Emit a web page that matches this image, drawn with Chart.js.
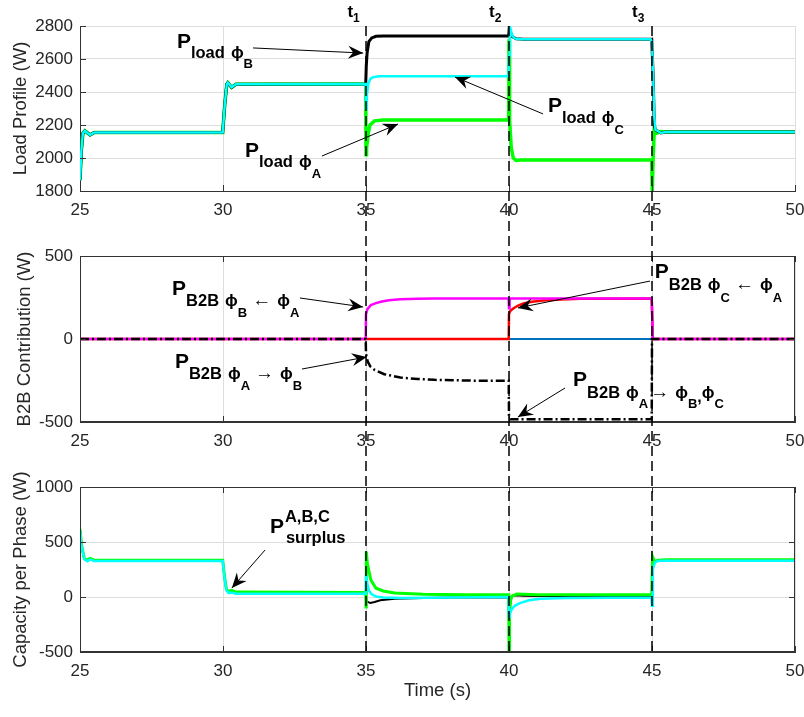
<!DOCTYPE html>
<html>
<head>
<meta charset="utf-8">
<script src="https://cdn.jsdelivr.net/npm/chart.js@4.4.1/dist/chart.umd.min.js"></script>
<style>
  body { margin: 0; background: #fff; }
  #wrap { position: relative; width: 804px; height: 717px; }
  canvas { position: absolute; left: 0; top: 0; }
</style>
</head>
<body>
<div id="wrap">
  <canvas id="load" width="804" height="717"></canvas>
  <canvas id="b2b" width="804" height="717"></canvas>
  <canvas id="cap" width="804" height="717"></canvas>
</div>
<script>
// Load profile (W)
const tLoadA = [25, 25.05, 25.1, 25.17, 25.35, 25.5, 29.99, 30.06, 30.13, 30.17, 30.3, 30.45, 34.99, 35.0, 35.02, 35.08, 35.14, 35.3, 35.6, 39.99, 40.0, 40.02, 40.08, 40.15, 40.25, 40.4, 44.99, 45.01, 45.04, 45.08, 45.15, 45.3, 45.5, 50];
const loadA  = [1865, 2050, 2150, 2165, 2140, 2155, 2155, 2320, 2445, 2456, 2428, 2447, 2448, 2020, 2060, 2150, 2200, 2225, 2230, 2230, 2720, 2230, 2060, 2000, 1985, 1988, 1988, 1800, 2000, 2170, 2150, 2160, 2157, 2157];
const tLoadB = [25, 25.05, 25.1, 25.17, 25.35, 25.5, 29.99, 30.06, 30.13, 30.17, 30.3, 30.45, 34.99, 35.01, 35.04, 35.1, 35.2, 35.35, 35.6, 39.99, 40.01, 40.05, 40.12, 40.25, 40.5, 44.99, 45.04, 45.08, 45.12, 45.2, 45.3, 45.5, 50];
const loadB  = [1865, 2050, 2150, 2165, 2140, 2155, 2155, 2320, 2445, 2456, 2428, 2447, 2448, 2560, 2640, 2705, 2728, 2738, 2740, 2740, 2790, 2760, 2735, 2722, 2720, 2720, 2500, 2200, 2170, 2163, 2152, 2157, 2157];
const tLoadC = [25, 25.05, 25.1, 25.17, 25.35, 25.5, 29.99, 30.06, 30.13, 30.17, 30.3, 30.45, 34.99, 35.0, 35.03, 35.08, 35.15, 35.25, 35.45, 39.99, 40.0, 40.03, 40.07, 40.12, 40.2, 40.35, 44.95, 45.0, 45.04, 45.08, 45.12, 45.2, 45.3, 45.5, 50];
const loadC  = [1865, 2050, 2150, 2165, 2140, 2155, 2155, 2320, 2445, 2456, 2428, 2447, 2448, 2300, 2380, 2450, 2480, 2490, 2495, 2495, 2620, 2800, 2770, 2740, 2725, 2720, 2720, 2700, 2500, 2250, 2170, 2165, 2152, 2157, 2157];

// B2B contribution (W)
const tB2bBA = [25, 34.99, 35.0, 35.05, 35.17, 35.35, 35.52, 35.8, 36.2, 36.8, 37.4, 39.99, 40.0, 40.02, 40.06, 44.99, 45.03, 50];
const b2bBA  = [0, 0, 150, 180, 204, 216, 224, 233, 240, 243, 244, 244, 185, 235, 244, 244, 0, 0];
const tB2bCA = [25, 39.99, 40.0, 40.05, 40.15, 40.3, 40.5, 40.8, 41.2, 41.8, 42.5, 44.99, 45.03, 50];
const b2bCA  = [0, 0, 150, 170, 184, 200, 214, 224, 232, 238, 242, 244, 0, 0];
const tB2bBase = [25, 50];
const b2bBase  = [0, 0];
const tB2bA  = [25, 34.99, 35.0, 35.06, 35.15, 35.3, 35.64, 36.2, 36.8, 37.4, 39.1, 39.99, 40.0, 40.05, 44.99, 45.0, 50];
const b2bA   = [0, 0, -90, -136, -165, -186, -212, -232, -241, -246, -252, -252, -470, -484, -484, 0, 0];

// Capacity per phase (W)
const tCapA = [25, 25.05, 25.15, 25.25, 25.35, 25.5, 29.99, 30.05, 30.12, 30.2, 30.3, 30.45, 34.99, 35.0, 35.01, 35.05, 35.17, 35.35, 35.6, 36, 37, 38.5, 39.99, 40.0, 40.02, 40.06, 40.1, 40.27, 41, 44.99, 45.02, 45.1, 45.2, 45.5, 50];
const capA  = [620, 480, 350, 335, 350, 335, 335, 190, 70, 50, 60, 45, 42, -90, 412, 300, 155, 80, 55, 36, 25, 20, 20, -500, -150, -20, 5, 27, 20, 20, 367, 320, 335, 338, 338];
const tCapB = [25, 25.05, 25.15, 25.25, 25.35, 25.5, 29.99, 30.05, 30.12, 30.2, 30.3, 30.45, 34.99, 35.02, 35.15, 35.3, 35.5, 36, 37, 38, 39.99, 40.0, 40.03, 40.1, 40.2, 40.5, 41, 44.99, 45.0, 45.03, 45.1, 45.25, 45.5, 50];
const capB  = [610, 470, 345, 330, 345, 335, 335, 185, 65, 45, 55, 45, 45, -40, -55, -45, -30, -15, -8, -5, -5, -200, -80, 10, 15, 12, 8, 6, -60, 280, 320, 335, 335, 335];
const tCapC = [25, 25.05, 25.15, 25.25, 25.35, 25.5, 29.99, 30.05, 30.12, 30.2, 30.3, 30.45, 34.99, 35.0, 35.05, 35.1, 35.2, 35.35, 35.6, 36.2, 39.99, 40.0, 40.03, 40.1, 40.2, 40.38, 40.7, 41.1, 42, 44.99, 45.0, 45.03, 45.1, 45.25, 45.5, 50];
const capC  = [610, 470, 345, 325, 340, 328, 328, 180, 60, 35, 40, 30, 30, 200, 120, 60, 25, 5, -5, -8, 0, -180, -150, -110, -80, -55, -30, -15, -8, -5, -80, 250, 315, 330, 330, 330];

// axes
const xTicks = [25, 50, 5];
const eventTimes = [35, 40, 45];
const loadRange = [1800, 2800, 200];
const b2bRange = [-500, 500, 500];
const capRange = [-500, 1000, 500];

// layout of the three plot boxes (pixels)
const BOXES = [
  { top: 26, bottom: 191, xh: 30 },
  { top: 256, bottom: 422, xh: 30 },
  { top: 487, bottom: 652, xh: 54 },
];
const FONT = '"Liberation Sans", Arial, Helvetica, sans-serif';
const TXT = '#262626';

const pts = (t, v) => t.map((x, i) => ({ x, y: v[i] }));

// rich text: segments drawn one after another
function drawRich(ctx, x, y, segs) {
  let cx = x;
  segs.forEach(sg => {
    ctx.font = `${sg.w || 'bold'} ${sg.s}px ${FONT}`;
    cx += sg.dx || 0;
    ctx.fillText(sg.t, cx, y + (sg.dy || 0));
    if (!sg.stay) cx += ctx.measureText(sg.t).width;
  });
}

function arrow(ctx, x1, y1, x2, y2) {
  ctx.lineWidth = 1;
  ctx.beginPath(); ctx.moveTo(x1, y1); ctx.lineTo(x2, y2); ctx.stroke();
  const a = Math.atan2(y2 - y1, x2 - x1), c = Math.cos(a), s = Math.sin(a);
  const L = 15, W = 6.5, B = 10;
  ctx.beginPath();
  ctx.moveTo(x2, y2);
  ctx.lineTo(x2 - L * c + W * s, y2 - L * s - W * c);
  ctx.lineTo(x2 - B * c, y2 - B * s);
  ctx.lineTo(x2 - L * c - W * s, y2 - L * s + W * c);
  ctx.closePath(); ctx.fill();
}

const P = { t: 'P', s: 21 };
const sub = (t, dy) => ({ t, s: 16.5, dy });
const phi = (dy, dx) => ({ t: 'ϕ', s: 17, dy, dx: dx || 0 });
const ssub = (t, dy) => ({ t, s: 13, dy });
const arr = (t, dy, dx) => ({ t, s: 19, w: 'normal', dy, dx });

const overlay = {
  id: 'overlay',
  afterDraw(chart, args, o) {
    const { ctx, chartArea: a, scales: { x, y } } = chart;
    ctx.save();
    ctx.strokeStyle = '#333';
    ctx.lineWidth = 1;
    if (o.box) ctx.strokeRect(Math.round(a.left) + 0.5, Math.round(a.top) + 0.5, Math.round(a.right - a.left) - 1, Math.round(a.bottom - a.top) - 1);
    ctx.beginPath();
    x.ticks.forEach(tk => {
      const p = Math.round(x.getPixelForValue(tk.value)) + 0.5;
      ctx.moveTo(p, a.bottom); ctx.lineTo(p, a.bottom - 6);
      if (o.box) { ctx.moveTo(p, a.top); ctx.lineTo(p, a.top + 6); }
    });
    y.ticks.forEach(tk => {
      const p = Math.round(y.getPixelForValue(tk.value)) + 0.5;
      ctx.moveTo(a.left, p); ctx.lineTo(a.left + 6, p);
      if (o.box) { ctx.moveTo(a.right, p); ctx.lineTo(a.right - 6, p); }
    });
    ctx.stroke();

    ctx.fillStyle = '#000';
    ctx.strokeStyle = '#000';
    ctx.textBaseline = 'alphabetic';
    ctx.textAlign = 'left';
    (o.arrows || []).forEach(([t1, v1, t2, v2]) =>
      arrow(ctx, x.getPixelForValue(t1), y.getPixelForValue(v1), x.getPixelForValue(t2), y.getPixelForValue(v2)));
    (o.labels || []).forEach(l => drawRich(ctx, x.getPixelForValue(l.t), y.getPixelForValue(l.v), l.segs));

    if (o.vlines) {
      ctx.setLineDash([10, 5]);
      ctx.lineWidth = 1.5;
      o.vlines.forEach(t => {
        const p = x.getPixelForValue(t);
        ctx.beginPath(); ctx.moveTo(p, o.vTop); ctx.lineTo(p, a.bottom); ctx.stroke();
      });
    }
    ctx.restore();
  }
};

function makeChart(id, box, range, yTitle, titlePad, datasets, over, xTitle) {
  return new Chart(document.getElementById(id), {
    type: 'line',
    data: { datasets },
    plugins: [overlay],
    options: {
      responsive: false,
      devicePixelRatio: 1,
      animation: false,
      events: [],
      layout: { padding: { left: 8, right: 9, top: box.top, bottom: 717 - box.bottom - box.xh } },
      elements: { point: { radius: 0 }, line: { tension: 0 } },
      plugins: { legend: { display: false }, tooltip: { enabled: false }, overlay: over },
      scales: {
        x: {
          type: 'linear', min: xTicks[0], max: xTicks[1],
          afterFit: s => { s.height = box.xh; s.paddingLeft = 0; s.paddingRight = 0; },
          ticks: { stepSize: xTicks[2], padding: 9, color: TXT, font: { family: FONT, size: 17 }, maxRotation: 0, autoSkip: false },
          grid: { color: '#dedede', drawTicks: false },
          border: { display: true, color: '#333' },
          title: { display: !!xTitle, text: xTitle || '', color: TXT, font: { family: FONT, size: 18.5 }, padding: { top: 0, bottom: 4 } },
        },
        y: {
          type: 'linear', min: range[0], max: range[1],
          afterFit: s => { s.width = 72; },
          ticks: { stepSize: range[2], padding: 7, color: TXT, font: { family: FONT, size: 17 }, callback: v => String(v) },
          grid: { color: '#dedede', drawTicks: false },
          border: { display: true, color: '#333' },
          title: { display: true, text: yTitle, color: TXT, font: { family: FONT, size: 18.5 }, padding: { top: titlePad, bottom: 0 } },
        },
      },
    },
  });
}

const line = (data, color, width, extra) => Object.assign({ data, borderColor: color, borderWidth: width, fill: false }, extra || {});

makeChart('load', BOXES[0], loadRange, 'Load Profile (W)', 2, [
  line(pts(tLoadC, loadC), '#00ffff', 2.5),
  line(pts(tLoadB, loadB), '#000000', 3),
  line(pts(tLoadA, loadA), '#00ff00', 3.5),
], {
  box: false,
  arrows: [[31.05, 2667, 34.9, 2636], [33.46, 2012, 36.12, 2206], [41.19, 2267, 38.11, 2491]],
  labels: [
    { t: 28.39, v: 2667, segs: [P, sub('load', 10), phi(10, 6), ssub('B', 20)] },
    { t: 30.77, v: 2006, segs: [P, sub('load', 10), phi(10, 6), ssub('A', 21)] },
    { t: 41.36, v: 2279, segs: [P, sub('load', 11), phi(11, 6), ssub('C', 22)] },
    { t: 34.35, v: 2855, segs: [{ t: 't', s: 17 }, { t: '1', s: 12, dy: 5 }] },
    { t: 39.3, v: 2855, segs: [{ t: 't', s: 17 }, { t: '2', s: 12, dy: 5 }] },
    { t: 44.3, v: 2855, segs: [{ t: 't', s: 17 }, { t: '3', s: 12, dy: 5 }] },
  ],
});

makeChart('b2b', BOXES[1], b2bRange, 'B2B Contribution (W)', 5.5, [
  line(pts(tB2bA, b2bA), '#000000', 2.5, { borderDash: [9, 3, 2, 3] }),
  line(pts(tB2bBA, b2bBA), '#ff00ff', 2.5),
  line(pts(tB2bCA, b2bCA), '#ff0000', 2.5),
  line(pts(tB2bBase, b2bBase), '#0072bd', 2),
], {
  box: true,
  arrows: [[32.69, 247, 34.9, 193], [32.76, -181, 35.03, -108], [44.93, 349, 40.31, 187], [41.96, -295, 40.31, -470]],
  labels: [
    { t: 28.22, v: 265, segs: [P, sub('B2B', 11), phi(11, 6), ssub('B', 22), arr('←', 11, 5), phi(11, 6), ssub('A', 22)] },
    { t: 28.32, v: -175, segs: [P, sub('B2B', 11), phi(11, 6), ssub('A', 22), arr('→', 11, 5), phi(11, 6), ssub('B', 22)] },
    { t: 45.1, v: 367, segs: [P, sub('B2B', 12), phi(12, 6), ssub('C', 24), arr('←', 12, 5), phi(12, 6), ssub('A', 24)] },
    { t: 42.24, v: -283, segs: [P, sub('B2B', 12), phi(12, 6), ssub('A', 22), arr('→', 12, 2), phi(12, 6), ssub('B', 22), { t: ',', s: 16, dy: 16 }, phi(12, 0), ssub('C', 22)] },
  ],
});

makeChart('cap', BOXES[2], capRange, 'Capacity per Phase (W)', 2, [
  line(pts(tCapC, capC), '#00ffff', 2.5),
  line(pts(tCapA, capA), '#00ff00', 3),
  line(pts(tCapB, capB), '#000000', 2),
], {
  box: true,
  arrows: [[31.47, 427, 30.31, 82]],
  labels: [
    { t: 31.64, v: 582, segs: [P, { t: 'A,B,C', s: 16.5, dy: -11, dx: 1, stay: true }, { t: 'surplus', s: 16.5, dy: 10, dx: 1 }] },
  ],
  vlines: eventTimes,
  vTop: BOXES[0].top,
}, 'Time (s)');
</script>
</body>
</html>
